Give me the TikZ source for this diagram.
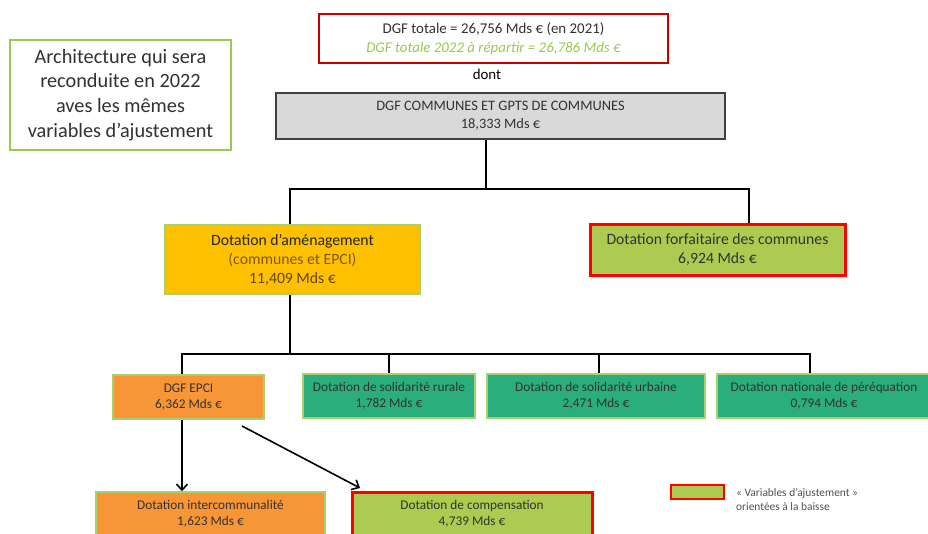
\documentclass[tikz,border=0pt]{standalone}
\usepackage{fontspec}
\setmainfont{Carlito}
\usetikzlibrary{arrows.meta}
\definecolor{tx}{RGB}{50,50,50}
\definecolor{lgreen}{RGB}{155,200,80}
\definecolor{bgreen}{RGB}{169,208,110}
\definecolor{dred}{RGB}{200,0,0}
\definecolor{bred}{RGB}{255,0,0}
\definecolor{gfill}{RGB}{217,217,217}
\definecolor{gborder}{RGB}{64,64,64}
\definecolor{yfill}{RGB}{255,192,0}
\definecolor{ofill}{RGB}{247,150,55}
\definecolor{olive}{RGB}{173,203,80}
\definecolor{teal}{RGB}{42,174,124}
\definecolor{brown}{RGB}{125,90,20}
\definecolor{dbrown}{RGB}{95,70,15}
\begin{document}
\begin{tikzpicture}[x=1pt,y=-1pt,
  box/.style={draw, inner sep=0pt, align=center, text=tx},
  greenb/.style={box, draw=bgreen, line width=1.5pt},
  redb/.style={box, draw=bred, line width=3pt, fill=olive},
  small/.style={font=\fontsize{13.3}{16}\selectfont},
  conn/.style={draw=black, line width=2pt},
  arr/.style={draw=black, line width=1.6pt, -{Straight Barb[length=6pt,width=11pt]}}]
\clip (0,0) rectangle (928,533);
\fill[white] (0,0) rectangle (928,533);

\node[box, draw=lgreen, line width=2pt, minimum width=221pt, minimum height=110pt,
  font=\fontsize{20.3}{24.8}\selectfont] (arch) at (120.5,95)
  {Architecture qui sera\\reconduite en 2022\\aves les mêmes\\variables d’ajustement};

\node[box, draw=dred, line width=2.5pt, minimum width=349pt, minimum height=49pt,
  font=\fontsize{14.9}{19}\selectfont] (top) at (493.5,38.5)
  {DGF totale = 26,756 Mds € (en 2021)\\\textcolor{lgreen}{\itshape DGF totale 2022 à répartir = 26,786 Mds €}};
\node[text=black, font=\fontsize{14.9}{16}\selectfont, inner sep=0pt] (dont) at (487,74) {dont};

\node[box, draw=gborder, fill=gfill, line width=2.5pt, minimum width=449pt, minimum height=46pt,
  font=\fontsize{14.4}{18}\selectfont] (gray) at (500.5,116)
  {DGF COMMUNES ET GPTS DE COMMUNES\\18,333 Mds €};

\node[greenb, fill=yfill, minimum width=255pt, minimum height=69pt,
  font=\fontsize{15.7}{19}\selectfont] (amen) at (292.5,259.5)
  {\textcolor{black!85}{Dotation d’aménagement}\\\textcolor{brown}{(communes et EPCI)}\\\textcolor{dbrown}{11,409 Mds €}};

\node[redb, minimum width=255pt, minimum height=51pt,
  font=\fontsize{15.7}{19}\selectfont] (forf) at (717.5,249.5)
  {Dotation forfaitaire des communes\\6,924 Mds €};

\node[greenb, small, fill=ofill, minimum width=151pt, minimum height=44pt] (epci) at (188.5,397)
  {DGF EPCI\\6,362 Mds €};
\node[greenb, small, fill=teal, minimum width=172pt, minimum height=44pt] (rur) at (389,396)
  {Dotation de solidarité rurale\\1,782 Mds €};
\node[greenb, small, fill=teal, minimum width=218pt, minimum height=44pt] (urb) at (596,396)
  {Dotation de solidarité urbaine\\2,471 Mds €};
\node[greenb, small, fill=teal, minimum width=214pt, minimum height=44pt] (per) at (824,396)
  {Dotation nationale de péréquation\\0,794 Mds €};

\node[greenb, small, fill=ofill, minimum width=229pt, minimum height=44pt] (inter) at (210.5,514)
  {Dotation intercommunalité\\1,623 Mds €};
\node[redb, small, minimum width=240pt, minimum height=44pt] (comp) at (472,514)
  {Dotation de compensation\\4,739 Mds €};

\node[redb, line width=2pt, minimum width=53pt, minimum height=14pt] (leg) at (697.5,492) {};
\node[anchor=west, align=left, inner sep=0pt, text=tx!85, font=\fontsize{11.4}{14}\selectfont] (legt) at (736,500)
  {« Variables d’ajustement »\\orientées à la baisse};

% connectors
\coordinate (j1) at (486,189);
\coordinate (j1l) at (290,189);
\coordinate (j1r) at (749,189);
\draw[conn] (j1 |- gray.south) -- (j1);
\draw[conn] (j1l |- amen.north) -- (j1l) -- (j1r) -- (j1r |- forf.north);

\coordinate (j2) at (290,354);
\coordinate (j2a) at (182,354);
\coordinate (j2b) at (389,354);
\coordinate (j2c) at (599,354);
\coordinate (j2d) at (810,354);
\draw[conn] (j2 |- amen.south) -- (j2);
\draw[conn] (j2a |- epci.north) -- (j2a) -- (j2d) -- (j2d |- per.north);
\draw[conn] (j2b) -- (j2b |- rur.north);
\draw[conn] (j2c) -- (j2c |- urb.north);

\coordinate (a0) at (182,420);
\coordinate (a1) at (242,426);
\coordinate (a2) at (360,488);
\draw[arr] (a0 |- epci.south) -- (a0 |- inter.north);
\draw[arr] (a1) -- (a2);
\end{tikzpicture}
\end{document}
